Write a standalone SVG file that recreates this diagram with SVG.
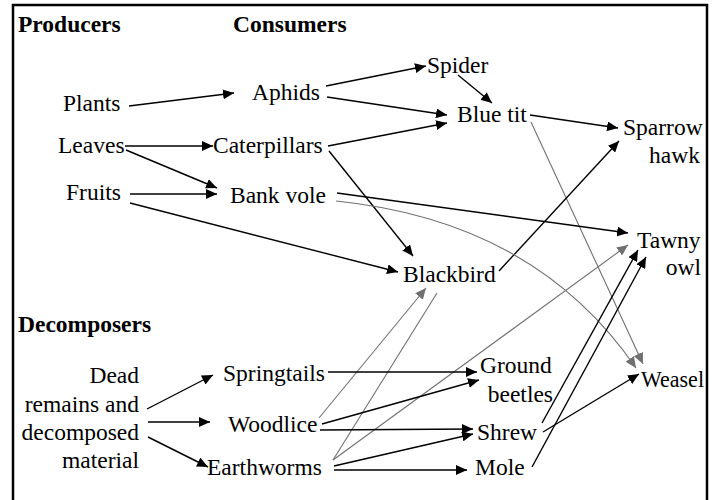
<svg xmlns="http://www.w3.org/2000/svg" width="719" height="500" viewBox="0 0 719 500">
<style>
text{font-family:"Liberation Serif","Times New Roman",serif;font-size:23.5px;fill:#000}
.h{font-weight:bold}
.e{text-anchor:end}
.b{stroke:#000;stroke-width:1.4;fill:none;marker-end:url(#ab)}
.bn{stroke:#000;stroke-width:1.4;fill:none}
.g{stroke:#707070;stroke-width:1.1;fill:none;marker-end:url(#ag)}
.gn{stroke:#707070;stroke-width:1.1;fill:none}
</style>
<defs>
<marker id="ab" markerUnits="userSpaceOnUse" markerWidth="12" markerHeight="10" refX="11" refY="5" orient="auto"><path d="M0,0 L11,5 L0,10 Z" fill="#000"/></marker>
<marker id="ag" markerUnits="userSpaceOnUse" markerWidth="12" markerHeight="10" refX="11" refY="5" orient="auto"><path d="M0,0 L11,5 L0,10 Z" fill="#707070"/></marker>
</defs>
<rect x="13" y="5" width="694" height="520" fill="#fff" stroke="#000" stroke-width="2.5"/>
<g id="headings">
<text class="h" x="18" y="32">Producers</text>
<text class="h" x="233" y="32">Consumers</text>
<text class="h" x="18" y="332">Decomposers</text>
</g>
<g id="connectors">
<line class="b" x1="129" y1="106" x2="234" y2="93"/>
<line class="b" x1="125" y1="146" x2="213" y2="146"/>
<line class="b" x1="126" y1="150" x2="217" y2="188"/>
<line class="b" x1="130" y1="194" x2="217" y2="194"/>
<line class="b" x1="130" y1="203" x2="398" y2="272"/>
<line class="b" x1="326" y1="86" x2="426" y2="66"/>
<line class="b" x1="327" y1="97" x2="447" y2="115"/>
<line class="b" x1="328" y1="146" x2="447" y2="123"/>
<line class="b" x1="329" y1="151" x2="413" y2="256"/>
<line class="b" x1="458" y1="75" x2="492" y2="103"/>
<line class="b" x1="530" y1="115" x2="618" y2="128"/>
<line class="g" x1="531" y1="122" x2="643" y2="364"/>
<line class="b" x1="499" y1="271" x2="619" y2="141"/>
<line class="b" x1="337" y1="193" x2="628" y2="233"/>
<path class="g" d="M336,201 Q535,221 636,368"/>
<line class="g" x1="319" y1="418" x2="426" y2="288"/>
<line class="gn" x1="333" y1="460" x2="437" y2="293"/>
<line class="g" x1="333" y1="460" x2="628" y2="245"/>
<line class="b" x1="328" y1="372" x2="477" y2="372"/>
<line class="b" x1="322" y1="424" x2="479" y2="380"/>
<line class="b" x1="320" y1="430" x2="473" y2="429"/>
<line class="b" x1="334" y1="466" x2="473" y2="434"/>
<line class="b" x1="334" y1="470" x2="467" y2="470"/>
<line class="b" x1="542" y1="423" x2="638" y2="250"/>
<line class="b" x1="532" y1="467" x2="646" y2="257"/>
<line class="b" x1="543" y1="432" x2="639" y2="374"/>
<line class="b" x1="147" y1="409" x2="213" y2="375"/>
<line class="b" x1="148" y1="422" x2="210" y2="422"/>
<line class="b" x1="148" y1="437" x2="208" y2="467"/>
</g>
<g id="plants"><text x="63" y="111">Plants</text></g>
<g id="leaves"><text x="58" y="153">Leaves</text></g>
<g id="fruits"><text x="66" y="200">Fruits</text></g>
<g id="aphids"><text x="252" y="100">Aphids</text></g>
<g id="caterpillars"><text x="213" y="153">Caterpillars</text></g>
<g id="bankvole"><text x="230" y="203">Bank vole</text></g>
<g id="spider"><text x="427" y="73">Spider</text></g>
<g id="bluetit"><text x="457" y="122">Blue tit</text></g>
<g id="sparrowhawk"><text x="623" y="135">Sparrow</text><text class="e" x="700" y="163">hawk</text></g>
<g id="blackbird"><text x="403" y="282">Blackbird</text></g>
<g id="tawnyowl"><text x="637" y="248">Tawny</text><text class="e" x="701" y="275">owl</text></g>
<g id="dead"><text class="e" x="139" y="383">Dead</text><text class="e" x="139" y="412">remains and</text><text class="e" x="139" y="440">decomposed</text><text class="e" x="139" y="468">material</text></g>
<g id="springtails"><text x="223" y="381">Springtails</text></g>
<g id="woodlice"><text x="228" y="432">Woodlice</text></g>
<g id="earthworms"><text x="207" y="475">Earthworms</text></g>
<g id="groundbeetles"><text x="480" y="373">Ground</text><text class="e" x="553" y="402">beetles</text></g>
<g id="shrew"><text x="477" y="440">Shrew</text></g>
<g id="mole"><text x="475" y="475">Mole</text></g>
<g id="weasel"><text x="641" y="387" textLength="63" lengthAdjust="spacingAndGlyphs">Weasel</text></g>
</svg>
